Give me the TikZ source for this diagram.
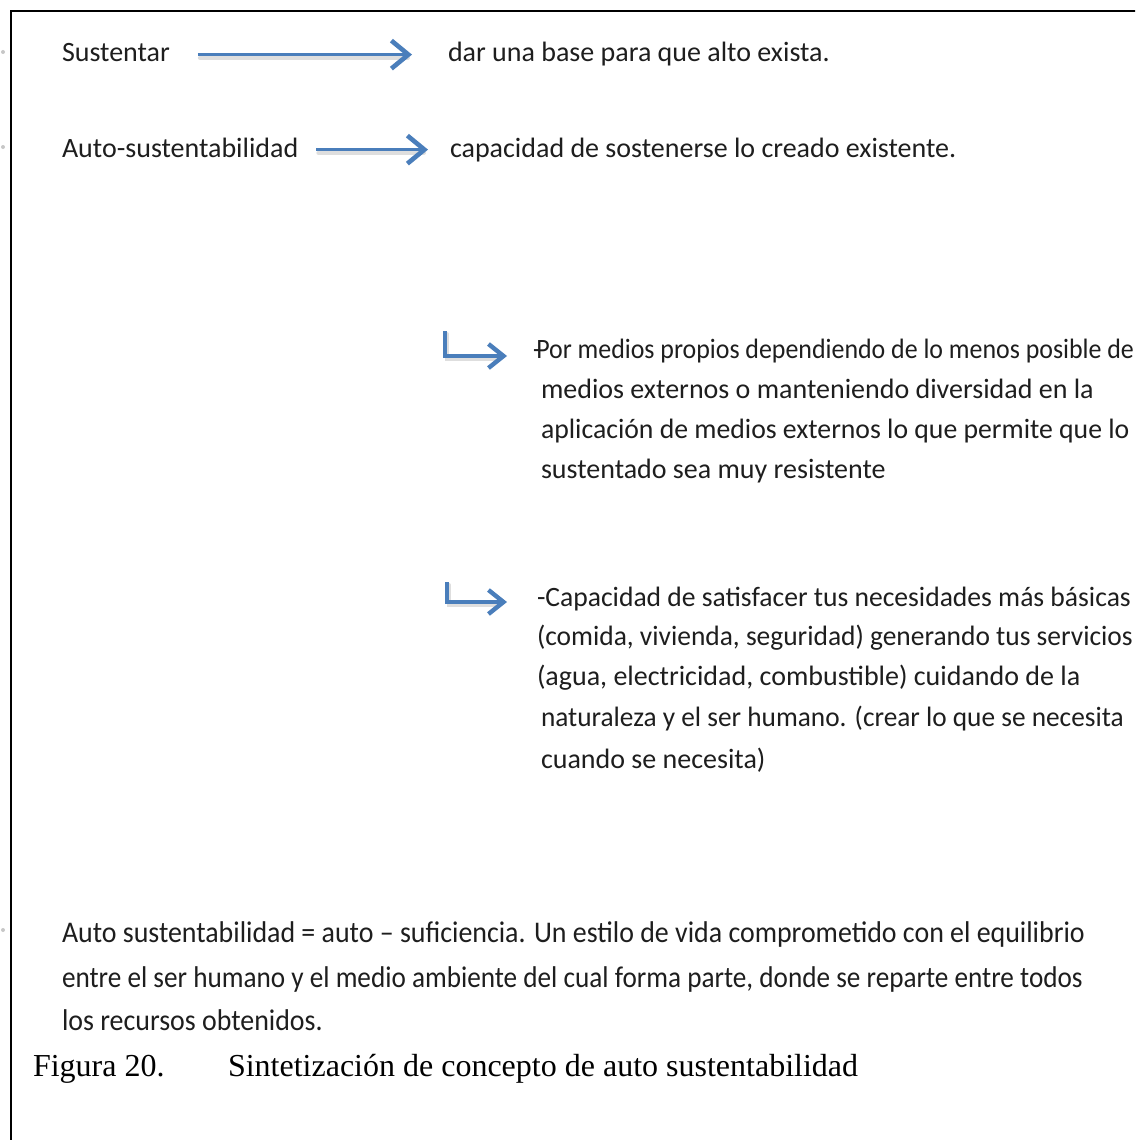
\documentclass[tikz,border=0pt]{standalone}
\usepackage{fontspec}
\setmainfont{Carlito}
\newfontfamily\capfont{Liberation Serif}
\usetikzlibrary{arrows.meta}
\definecolor{arrowblue}{HTML}{4A7EBB}
\definecolor{txt}{HTML}{1E1E1E}
\begin{document}
\begin{tikzpicture}[x=1pt,y=-1pt,
  lbl/.style={anchor=base west, inner sep=0pt, outer sep=0pt, text=txt, font=\fontsize{28}{34}\selectfont},
  blk/.style={lbl},
  bot/.style={lbl, font=\addfontfeature{FakeStretch=0.93}\fontsize{30}{40}\selectfont},
  captxt/.style={anchor=base west, inner sep=0pt, outer sep=0pt, text=black, font=\capfont\fontsize{32}{38}\selectfont},
  barrow/.style={draw=arrowblue, line width=3.6pt, -{Straight Barb[length=17pt,width=28pt,line width=4.6pt]}},
  earrow/.style={draw=arrowblue, line width=3.6pt, -{Straight Barb[length=15pt,width=24pt,line width=4.4pt]}},
  shad/.style={draw=black!13, line width=4pt, line cap=round},
  dot/.style={circle, fill=black!22, inner sep=0pt, minimum size=4pt},
]
\useasboundingbox (0,0) rectangle (1135,1140);
\clip (0,0) rectangle (1135,1140);
\fill[white] (0,0) rectangle (1135,1140);
% frame
\draw[line width=2.3pt, black] (11,1145) -- (11,11) -- (1140,11);
% faint margin marks
\node[dot] (m1) at (3,52) {};
\node[dot] (m2) at (3,147) {};
\node[dot] (m3) at (3,930) {};

% row 1
\node[lbl] (s1) at (62,62) {Sustentar};
\node[lbl] (d1) at (448,62) {dar una base para que alto exista.};
% row 2
\node[lbl] (s2) at (62,157) {Auto-sustentabilidad};
\node[lbl] (d2) at (450,157) {capacidad de sostenerse lo creado existente.};

% arrow shadows
\draw[shad, shorten <=30pt, shorten >=40pt] ([yshift=2pt]s1.mid east) -- ([yshift=2pt]s1.mid east -| d1.west);
\draw[shad, shorten <=20pt, shorten >=26pt] ([yshift=2pt]s2.mid east) -- ([yshift=2pt]s2.mid east -| d2.west);
% arrows
\draw[barrow, shorten <=28pt, shorten >=36pt] ([yshift=5pt]s1.mid east) -- ([yshift=5pt]s1.mid east -| d1.west);
\draw[barrow, shorten <=18pt, shorten >=22pt] ([yshift=5pt]s2.mid east) -- ([yshift=5pt]s2.mid east -| d2.west);

% block 1
\node[blk] (p1) at (533,358) {\scalebox{0.925}[1]{-\kern-5pt Por medios propios dependiendo de lo menos posible de}};
\node[blk] (p2) at (541,398) {medios externos o manteniendo diversidad en la};
\node[blk] (p3) at (541,438) {\scalebox{0.99}[1]{aplicación de medios externos lo que permite que lo}};
\node[blk] (p4) at (541,478) {sustentado sea muy resistente};

% block 2
\node[blk] (q1) at (537,606) {\scalebox{0.985}[1]{-Capacidad de satisfacer tus necesidades más básicas}};
\node[blk] (q2) at (537,645) {\scalebox{0.98}[1]{(comida, vivienda, seguridad) generando tus servicios}};
\node[blk] (q3) at (537,685) {(agua, electricidad, combustible) cuidando de la};
\node[blk] (q4) at (541,726) {\scalebox{0.975}[1]{naturaleza y el ser humano. (crear lo que se necesita}};
\node[blk] (q5) at (541,768) {cuando se necesita)};

% elbow arrows
\coordinate (e1) at (445,331);
\coordinate (e2) at (447,582);
\draw[shad] ([xshift=2pt,yshift=-3pt]e1) |- ([xshift=-34pt,yshift=-1pt]p1.base west);
\draw[shad] ([xshift=2pt,yshift=-3pt]e2) |- ([xshift=-38pt,yshift=1pt]q1.base west);
\draw[earrow] (e1) |- ([xshift=-26pt,yshift=2pt]p1.base west);
\draw[earrow] (e2) |- ([xshift=-30pt,yshift=4pt]q1.base west);

% bottom paragraph
\node[bot] (b1) at (62,942) {Auto sustentabilidad = auto – suficiencia. Un estilo de vida comprometido con el equilibrio};
\node[bot] (b2) at (62,987) {\scalebox{0.975}[1]{entre el ser humano y el medio ambiente del cual forma parte, donde se reparte entre todos}};
\node[bot] (b3) at (62,1030) {los recursos obtenidos.};

% caption
\node[captxt] (c1) at (33,1076) {Figura 20.};
\node[captxt] (c2) at (228,1076) {Sintetización de concepto de auto sustentabilidad};
\end{tikzpicture}
\end{document}
